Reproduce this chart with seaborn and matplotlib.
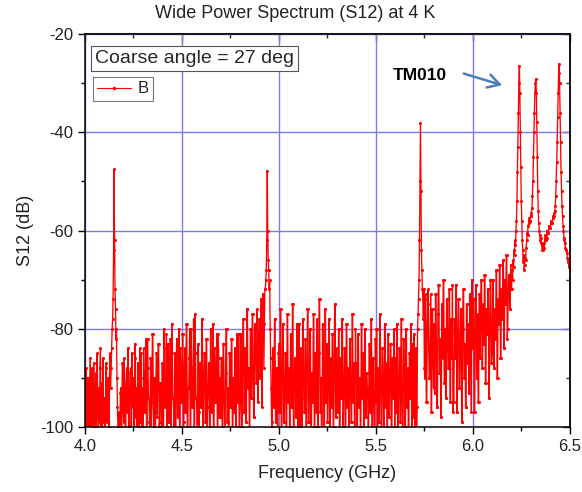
import numpy as np
import pandas as pd
import matplotlib
matplotlib.use("Agg")
import matplotlib.pyplot as plt
import seaborn as sns
from matplotlib.ticker import MultipleLocator, FormatStrFormatter

# ---- data ----
freq_start_ghz = 4.0
freq_step_ghz = 0.0025
s12_db = [
    # 4.000 - 4.0975
    -95, -101, -88, -104, -99, -90, -104, -93, -90, -102, -97, -86, -101, -102, -93, -88, -100, -104, -87, -96,
    -96, -103, -89, -100, -98, -85, -92, -101, -104, -92, -99, -88, -84, -102, -97, -91, -103, -86, -99, -95,
    # 4.100 - 4.1975
    -94, -101, -103, -88, -87, -99, -98, -91, -90, -102, -100, -86, -85, -92, -88, -84, -80, -78, -74, -64,
    -47.5, -62, -72, -76, -82, -80, -90, -96, -100, -104, -97, -102, -103, -93, -92, -100, -101, -87, -88, -97,
    # 4.200 - 4.2975
    -99, -86, -92, -103, -103, -91, -88, -97, -97, -84, -101, -100, -93, -89, -88, -102, -102, -85, -95, -96,
    -90, -101, -101, -83, -86, -98, -92, -104, -104, -87, -87, -95, -100, -84, -99, -90, -85, -103, -96, -92,
    # 4.300 - 4.3975
    -100, -84, -89, -97, -97, -89, -82, -103, -103, -82, -88, -94, -94, -99, -102, -86, -86, -101, -95, -81,
    -81, -95, -100, -90, -90, -102, -97, -85, -85, -98, -91, -83, -83, -100, -99, -91, -91, -96, -103, -87,
    # 4.400 - 4.4975
    -87, -102, -102, -80, -84, -96, -96, -92, -81, -100, -100, -83, -88, -99, -99, -88, -82, -103, -103, -79,
    -85, -94, -94, -97, -102, -85, -85, -101, -93, -82, -82, -98, -98, -90, -80, -100, -100, -84, -89, -95,
    # 4.500 - 4.5975
    -95, -81, -81, -102, -99, -88, -84, -97, -97, -79, -79, -100, -103, -92, -92, -86, -80, -103, -103, -80,
    -88, -96, -96, -89, -78, -101, -101, -77, -85, -94, -94, -99, -104, -83, -83, -100, -97, -87, -87, -96,
    # 4.600 - 4.6975
    -96, -78, -78, -101, -101, -90, -85, -85, -99, -99, -82, -82, -103, -96, -93, -87, -87, -100, -100, -80,
    -80, -97, -97, -91, -79, -102, -102, -84, -84, -95, -95, -88, -81, -101, -101, -81, -86, -98, -98, -90,
    # 4.700 - 4.7975
    -98, -86, -86, -100, -100, -83, -83, -94, -102, -102, -89, -80, -80, -99, -99, -92, -104, -104, -85, -85,
    -96, -96, -82, -82, -101, -101, -90, -90, -97, -84, -84, -103, -103, -88, -81, -95, -95, -81, -100, -100,
    # 4.800 - 4.8975
    -95, -81, -81, -100, -100, -87, -78, -78, -97, -97, -84, -84, -99, -99, -76, -76, -92, -88, -88, -101,
    -101, -80, -80, -94, -94, -77, -77, -90, -98, -98, -79, -79, -85, -91, -91, -76, -82, -95, -86, -78,
    # 4.900 - 4.9975
    -78, -90, -86, -74, -74, -96, -82, -73, -73, -88, -79, -72, -72, -70, -68, -62, -47.8, -60, -66, -68,
    -72, -70, -80, -86, -92, -99, -100, -88, -84, -96, -96, -78, -78, -99, -99, -88, -88, -102, -102, -85,
    # 5.000 - 5.0975
    -83, -97, -97, -76, -76, -101, -101, -89, -79, -79, -99, -99, -93, -85, -85, -103, -103, -77, -77, -95,
    -95, -88, -100, -100, -81, -81, -96, -96, -75, -75, -102, -102, -90, -86, -86, -98, -98, -79, -79, -100,
    # 5.100 - 5.1975
    -98, -79, -79, -100, -100, -84, -94, -94, -101, -78, -78, -91, -97, -97, -82, -82, -104, -104, -87, -76,
    -76, -99, -99, -93, -80, -80, -102, -102, -89, -95, -95, -77, -77, -100, -100, -85, -85, -97, -92, -78,
    # 5.200 - 5.2975
    -100, -100, -85, -74, -74, -97, -97, -90, -103, -103, -79, -79, -88, -101, -101, -76, -76, -95, -95, -83,
    -99, -99, -92, -78, -78, -102, -102, -86, -96, -96, -81, -81, -100, -100, -89, -75, -75, -98, -98, -84,
    # 5.300 - 5.3975
    -89, -97, -97, -80, -80, -103, -103, -86, -94, -94, -78, -78, -100, -100, -91, -84, -84, -102, -102, -79,
    -79, -96, -96, -88, -101, -101, -82, -82, -93, -99, -99, -77, -77, -95, -95, -87, -101, -101, -80, -90,
    # 5.400 - 5.4975
    -87, -102, -102, -81, -81, -96, -96, -90, -100, -100, -79, -79, -94, -85, -85, -103, -103, -80, -80, -98,
    -98, -89, -92, -92, -101, -101, -83, -83, -97, -97, -78, -78, -100, -100, -86, -86, -95, -104, -104, -82,
    # 5.500 - 5.5975
    -95, -80, -80, -104, -104, -88, -99, -99, -77, -77, -93, -101, -101, -84, -84, -90, -102, -102, -79, -79,
    -96, -96, -87, -100, -100, -81, -81, -98, -98, -91, -83, -83, -103, -103, -86, -94, -94, -80, -80, -100,
    # 5.600 - 5.6975
    -86, -97, -97, -79, -79, -101, -101, -92, -84, -84, -99, -99, -78, -78, -95, -103, -103, -82, -82, -90,
    -100, -100, -80, -80, -96, -96, -88, -102, -102, -85, -85, -94, -79, -79, -101, -101, -83, -98, -98, -81,
    # 5.700 - 5.7975
    -98, -101, -84, -84, -101, -96, -80, -77, -74, -70, -62, -50, -38.2, -52, -64, -68, -72, -74, -78, -72,
    -88, -90, -74, -73, -95, -95, -80, -75, -72, -84, -90, -90, -83, -73, -97, -97, -76, -76, -86, -92,
    # 5.800 - 5.8975
    -79, -93, -93, -73, -73, -84, -96, -96, -77, -71, -71, -89, -89, -82, -98, -98, -75, -75, -86, -70,
    -70, -91, -91, -80, -94, -94, -74, -74, -83, -88, -88, -72, -72, -95, -95, -78, -86, -86, -71, -97,
    # 5.900 - 5.9975
    -95, -95, -78, -86, -86, -71, -71, -97, -97, -81, -74, -74, -92, -92, -85, -76, -76, -99, -99, -80,
    -72, -72, -90, -90, -83, -96, -96, -75, -75, -87, -79, -79, -93, -93, -73, -84, -84, -97, -70, -70,
    # 6.000 - 6.0975
    -84, -74, -74, -97, -97, -80, -71, -71, -90, -90, -77, -95, -95, -73, -73, -86, -79, -70, -70, -88,
    -88, -75, -83, -83, -69, -69, -91, -91, -76, -81, -81, -72, -72, -94, -94, -78, -70, -70, -87, -87,
    # 6.100 - 6.1975
    -85, -70, -70, -88, -88, -76, -82, -82, -68, -68, -90, -90, -74, -79, -79, -67, -67, -86, -86, -72,
    -78, -78, -66, -66, -84, -84, -70, -75, -75, -65, -65, -82, -80, -73, -69, -69, -76, -76, -67, -72,
    # 6.200 - 6.2975
    -72, -68, -70, -66, -67.5, -64, -65, -62, -63, -60, -58, -54, -48, -43, -36, -30, -26.5, -32, -40, -47,
    -54, -58, -62, -64, -66.5, -65, -68, -67, -65.5, -66, -63.5, -62, -60.5, -61, -59, -58.5, -57.5, -58, -58, -57,
    # 6.300 - 6.3975
    -57, -56.5, -55.5, -53, -50, -45, -40, -36, -32, -30, -29.2, -32, -38, -45, -52, -56, -58.5, -60, -61, -62,
    -62.5, -61.5, -63, -64, -64, -63, -62.5, -63.5, -62, -61, -61, -62, -61.5, -60, -60, -60.5, -60.5, -59, -59, -59.5,
    # 6.400 - 6.4975
    -59.5, -58.5, -58, -58.5, -58.5, -57.5, -57, -57, -56.5, -56, -55, -53, -50, -46, -42, -37, -32, -28, -26.1, -30,
    -36, -42, -48, -52, -55, -57, -59, -60, -61.5, -62, -62.5, -63.5, -64, -64, -64.5, -65.5, -66, -66.5, -67, -67.5,
    # 6.500
    -68,
]
freq_ghz = freq_start_ghz + freq_step_ghz * np.arange(len(s12_db))

title_text = "Wide Power Spectrum (S12) at 4 K"
x_label = "Frequency (GHz)"
y_label = "S12 (dB)"
note_text = "Coarse angle = 27 deg"
series_name = "B"
annot_text = "TM010"

df = pd.DataFrame({"freq": freq_ghz, "s12": s12_db})

# ---- figure ----
sns.set_theme(style="white")
plt.rcParams["font.family"] = ["Liberation Sans", "DejaVu Sans"]
plt.rcParams["axes.unicode_minus"] = False

fig = plt.figure(figsize=(5.82, 4.92), dpi=100)
ax = fig.add_axes([0.146, 0.132, 0.833, 0.799])

ax.grid(True, which="major", color="#7b7bf0", linewidth=1.0)
ax.set_axisbelow(True)

sns.lineplot(data=df, x="freq", y="s12", ax=ax, color="#ff0000",
             linewidth=0.95, marker="o", markersize=2.2, markeredgewidth=0,
             estimator=None, sort=False, label=series_name)

ax.set_xlim(4.0, 6.5)
ax.set_ylim(-100, -20)
ax.xaxis.set_major_locator(MultipleLocator(0.5))
ax.xaxis.set_minor_locator(MultipleLocator(0.25))
ax.yaxis.set_major_locator(MultipleLocator(20))
ax.yaxis.set_minor_locator(MultipleLocator(10))
ax.xaxis.set_major_formatter(FormatStrFormatter("%.1f"))

ax.tick_params(axis="both", which="both", direction="out", labelsize=12,
               colors="black", top=False, right=False, bottom=True, left=True,
               labelcolor="#222222")
ax.tick_params(axis="both", which="major", length=5, width=1)
ax.tick_params(axis="both", which="minor", length=3, width=1)

secx = ax.secondary_xaxis("top")
secx.set_xticks([4.0, 4.5, 5.0, 5.5, 6.0, 6.5])
secx.xaxis.set_minor_locator(MultipleLocator(0.25))
secx.tick_params(axis="x", which="both", direction="in", labeltop=False)
secx.tick_params(which="major", length=5, width=1)
secx.tick_params(which="minor", length=3, width=1)
secy = ax.secondary_yaxis("right")
secy.set_yticks([-100, -80, -60, -40, -20])
secy.yaxis.set_minor_locator(MultipleLocator(10))
secy.tick_params(axis="y", which="both", direction="in", labelright=False)
secy.tick_params(which="major", length=5, width=1)
secy.tick_params(which="minor", length=3, width=1)

for sp in ax.spines.values():
    sp.set_color("black")
    sp.set_linewidth(1.1)
secx.spines["top"].set_linewidth(1.1)
secy.spines["right"].set_linewidth(1.1)

ax.set_xlabel(x_label, fontsize=13, color="#222222", labelpad=8)
ax.set_ylabel(y_label, fontsize=13, color="#222222", labelpad=4)
fig.text(295 / 582, 1 - 14 / 492, title_text, fontsize=13, color="#222222",
         ha="center", va="center")

# note box
ax.text(0.02, 0.96, note_text, transform=ax.transAxes, fontsize=14,
        va="top", ha="left",
        bbox=dict(boxstyle="square,pad=0.2", facecolor="white",
                  edgecolor="#555555", linewidth=0.8))

leg = ax.legend(loc="upper left", bbox_to_anchor=(0.017, 0.89), fontsize=12,
                frameon=True, fancybox=False, handlelength=2.0,
                borderpad=0.25, handletextpad=0.4, borderaxespad=0)
leg.get_frame().set_edgecolor("#555555")
leg.get_frame().set_linewidth(0.8)
for h in leg.get_lines():
    h.set_linewidth(0.8)
    h.set_markersize(2.5)

ax.text(5.727, -28.4, annot_text, fontsize=12.5, fontweight="bold",
        ha="center", va="center", color="black")
ax.annotate("", xy=(6.165, -30.6), xytext=(5.94, -27.9),
            arrowprops=dict(arrowstyle="->,head_length=0.7,head_width=0.4",
                            color="#4a7ebb", linewidth=1.8))

fig.savefig("out.png", dpi=100)
